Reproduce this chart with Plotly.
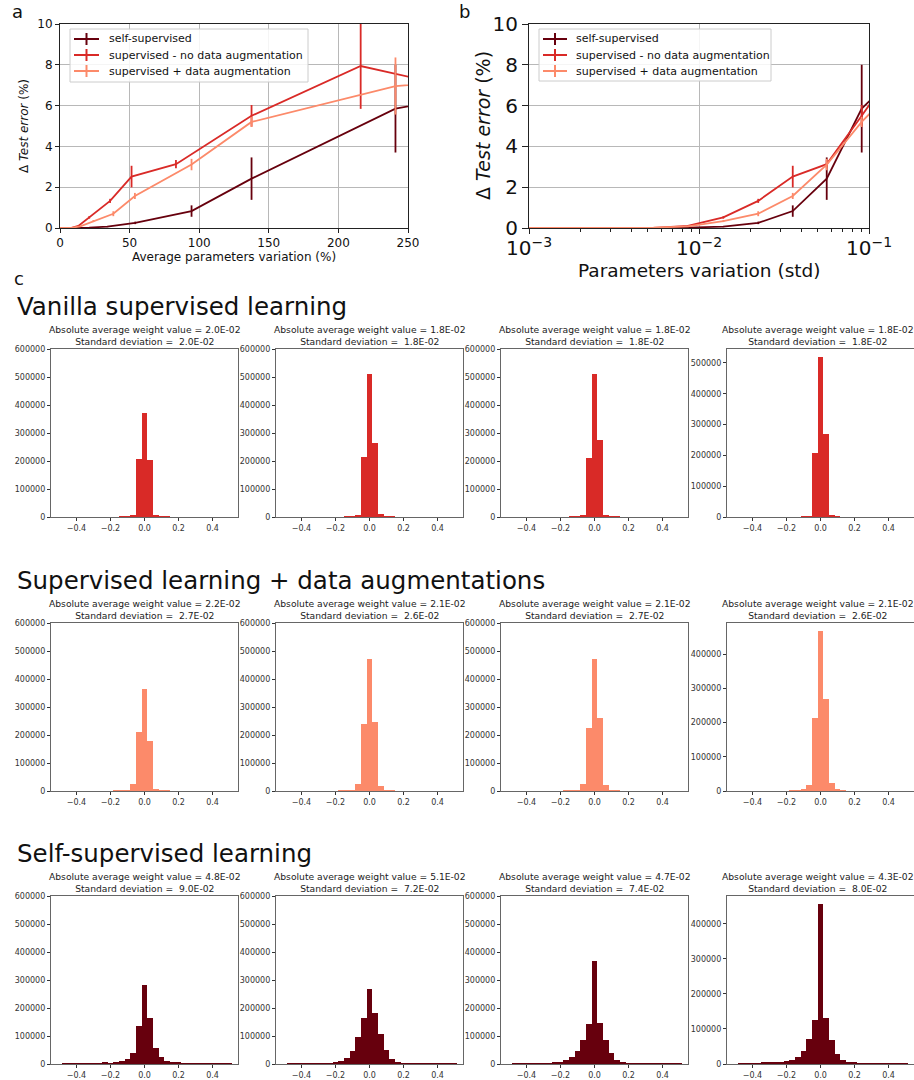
import plotly.graph_objects as go

FONT = "DejaVu Sans"
C_SELF = "#67000d"
C_SUP = "#d92a27"
C_AUG = "#fc8a6a"

# ---------------- Panel a / b data ----------------
series_names = ["self-supervised", "supervised - no data augmentation", "supervised + data augmentation"]

# parameters variation (std) for panel b
b_std = [0.0005, 0.0008, 0.0013, 0.0021, 0.0034, 0.0054, 0.0086, 0.0139, 0.0223, 0.0356, 0.0564, 0.0906, 0.145, 0.232]

# average parameters variation (%) for panel a
a_x_self = [0, 2, 3.3, 5.3, 8.5, 13.5, 21, 34, 54, 94.5, 137.6, 241, 370, 590]
a_x_sup = [0, 1.2, 2, 3.2, 5.2, 8.2, 13.2, 21, 36, 51.4, 83.3, 137.6, 216, 346]
a_x_aug = [0, 1.4, 2.2, 3.5, 5.6, 9, 14.5, 24, 38.3, 53.8, 94.5, 137.6, 241, 385]

y_self = [0, 0, 0, 0, 0, 0.005, 0.02, 0.07, 0.25, 0.83, 2.42, 5.85, 7.5, 9.0]
e_self = [0, 0, 0, 0, 0, 0.005, 0.01, 0.03, 0.06, 0.28, 1.04, 2.15, 2.5, 3.0]
y_sup = [0, 0, 0, 0, 0, 0.01, 0.1, 0.52, 1.33, 2.52, 3.13, 5.5, 7.94, 5.95]
e_sup = [0, 0, 0, 0, 0, 0.01, 0.03, 0.06, 0.1, 0.53, 0.2, 0.53, 2.1, 2.0]
y_aug = [0, 0, 0, 0, 0, 0.02, 0.08, 0.34, 0.7, 1.57, 3.11, 5.2, 6.96, 7.6]
e_aug = [0, 0, 0, 0, 0, 0.01, 0.03, 0.05, 0.12, 0.15, 0.28, 0.25, 1.4, 1.5]

b_major = [0.001, 0.01, 0.1]
b_major_text = ["10<sup>−3</sup>", "10<sup>−2</sup>", "10<sup>−1</sup>"]
b_minor = [m * 10 ** e for e in (-3, -2) for m in range(2, 10)]

# ---------------- Histogram data (panel c) ----------------
bin_start = -14  # bin index of the first count; bin width 1/30
bin_width = 1 / 30

def counts(d, fill=0):
    return [d.get(k, fill) for k in range(-14, 16)]

hist_vanilla = [
    counts({-4: 500, -3: 2000, -2: 6000, -1: 206000, 0: 371000, 1: 203000, 2: 5000, 3: 1500, 4: 500}),
    counts({-4: 500, -3: 1000, -2: 6000, -1: 215000, 0: 511000, 1: 264000, 2: 9500, 3: 2000, 4: 500}),
    counts({-4: 500, -3: 1000, -2: 6000, -1: 211000, 0: 511000, 1: 274000, 2: 6000, 3: 1500, 4: 500}),
    counts({-3: 800, -2: 2000, -1: 209000, 0: 519000, 1: 270000, 2: 5000, 3: 1000}),
]
hist_aug = [
    counts({-5: 1000, -4: 1500, -3: 3500, -2: 25000, -1: 211000, 0: 365000, 1: 179000, 2: 7000, 3: 1500, 4: 500}),
    counts({-5: 1000, -4: 1500, -3: 3500, -2: 25000, -1: 240000, 0: 472000, 1: 247000, 2: 18000, 3: 2500, 4: 800}),
    counts({-5: 1000, -4: 1500, -3: 3500, -2: 25000, -1: 225000, 0: 472000, 1: 261000, 2: 21000, 3: 3000, 4: 1000}),
    counts({-5: 1000, -4: 2000, -3: 4000, -2: 17500, -1: 215000, 0: 468000, 1: 269000, 2: 24000, 3: 3000, 4: 1000}),
]
hist_self = [
    counts({-8: 3000, -7: 4000, -6: 3500, -5: 7000, -4: 11000, -3: 19000, -2: 40000, -1: 137000, 0: 281000,
            1: 164000, 2: 58000, 3: 25000, 4: 11000, 5: 7000, 6: 4000, 7: 2500, 8: 1500}, fill=900),
    counts({-8: 1500, -7: 2500, -6: 6000, -5: 11000, -4: 22000, -3: 46000, -2: 97000, -1: 165000, 0: 268000,
            1: 182000, 2: 107000, 3: 50000, 4: 18000, 5: 7000, 6: 3500, 7: 1500}, fill=700),
    counts({-8: 3000, -7: 5000, -6: 8000, -5: 14000, -4: 25000, -3: 47000, -2: 87000, -1: 143000, 0: 368000,
            1: 146000, 2: 87000, 3: 40000, 4: 14000, 5: 8000, 6: 3500, 7: 1500}, fill=800),
    counts({-11: 1500, -10: 3000, -9: 4000, -8: 5000, -7: 6000, -6: 8000, -5: 11000, -4: 20000, -3: 37000,
            -2: 71000, -1: 125000, 0: 457000, 1: 132000, 2: 68000, 3: 29000, 4: 11000, 5: 6000, 6: 4000,
            7: 1500}, fill=800),
]

abs_avg = [["2.0E-02", "1.8E-02", "1.8E-02", "1.8E-02"],
           ["2.2E-02", "2.1E-02", "2.1E-02", "2.1E-02"],
           ["4.8E-02", "5.1E-02", "4.7E-02", "4.3E-02"]]
std_dev = [["2.0E-02", "1.8E-02", "1.8E-02", "1.8E-02"],
           ["2.7E-02", "2.6E-02", "2.7E-02", "2.6E-02"],
           ["9.0E-02", "7.2E-02", "7.4E-02", "8.0E-02"]]
row_titles = ["Vanilla supervised learning", "Supervised learning + data augmentations", "Self-supervised learning"]
row_colors = [C_SUP, C_AUG, C_SELF]
row_hists = [hist_vanilla, hist_aug, hist_self]

# ---------------- Layout geometry (pixels) ----------------
W, H = 914, 1080
def fx(p):
    return p / W
def fy(p):
    return 1 - p / H
def px_x(a, b):
    return [a / W, min(b / W, 1.0)]
def px_y(top, bottom):
    return [1 - bottom / H, 1 - top / H]

fig = go.Figure()
layout = dict(width=W, height=H, margin=dict(l=0, r=0, t=0, b=0, autoexpand=False),
              plot_bgcolor="white", paper_bgcolor="white",
              font=dict(family=FONT, color="#111"), bargap=0, showlegend=False)
annotations = []
shapes = []

# ---- Panels a and b ----
colors = [C_SELF, C_SUP, C_AUG]
ax_a = [a_x_self, a_x_sup, a_x_aug]
ys = [y_self, y_sup, y_aug]
es = [e_self, e_sup, e_aug]
for i in range(3):
    fig.add_trace(go.Scatter(x=ax_a[i], y=ys[i], mode="lines", line=dict(color=colors[i], width=1.8),
                             error_y=dict(type="data", array=es[i], width=0, thickness=1.8, color=colors[i]),
                             xaxis="x", yaxis="y", name=series_names[i], hoverinfo="skip"))
for i in range(3):
    fig.add_trace(go.Scatter(x=b_std, y=ys[i], mode="lines", line=dict(color=colors[i], width=1.8),
                             error_y=dict(type="data", array=es[i], width=0, thickness=1.8, color=colors[i]),
                             xaxis="x2", yaxis="y2", name=series_names[i], hoverinfo="skip"))

axis_common = dict(showline=True, mirror=True, linecolor="#222", linewidth=1, ticks="outside",
                   tickcolor="#222", zeroline=False, showgrid=True, gridcolor="#b8b8b8", gridwidth=0.8,
                   automargin=False)
layout["xaxis"] = dict(axis_common, domain=px_x(60, 408), range=[0, 250], tickvals=[0, 50, 100, 150, 200, 250],
                       ticklen=4, tickfont=dict(size=12), anchor="y",
                       title=dict(text="Average parameters variation (%)", font=dict(size=12), standoff=2))
layout["yaxis"] = dict(axis_common, domain=px_y(24, 228), range=[0, 10], tickvals=[0, 2, 4, 6, 8, 10],
                       ticklen=4, tickfont=dict(size=12), anchor="x",
                       title=dict(text="Δ <i>Test error</i> (%)", font=dict(size=12), standoff=6))
layout["xaxis2"] = dict(axis_common, domain=px_x(529, 869), type="log", range=[-3, -1],
                        tickmode="array", tickvals=b_major, ticktext=b_major_text, ticklen=5,
                        ticklabelstandoff=-3,
                        tickfont=dict(size=20), anchor="y2",
                        minor=dict(tickmode="array", tickvals=b_minor, ticks="outside", ticklen=3,
                                   tickcolor="#222", showgrid=False))
layout["yaxis2"] = dict(axis_common, domain=px_y(24, 228), range=[0, 10], tickvals=[0, 2, 4, 6, 8, 10],
                        ticklen=6, tickfont=dict(size=20), anchor="x2")
annotations.append(dict(xref="paper", yref="paper", x=fx(699), y=fy(270), xanchor="center", yanchor="middle",
                        showarrow=False, text="Parameters variation (std)", font=dict(size=18.5, color="#111")))
annotations.append(dict(xref="paper", yref="paper", x=fx(483), y=fy(126), xanchor="center", yanchor="middle",
                        showarrow=False, textangle=-90, text="Δ <i>Test error</i> (%)",
                        font=dict(size=19, color="#111")))

# custom legends (matplotlib style: line with vertical error bar)
for (bx0, bx1, by0, by1, lx0, lx1, tx) in [(70, 308, 29, 82, 74, 99, 107), (539, 771, 29, 81, 543, 567, 574)]:
    shapes.append(dict(type="rect", xref="paper", yref="paper", x0=fx(bx0), x1=fx(bx1), y0=fy(by1), y1=fy(by0),
                       line=dict(color="#cccccc", width=1), fillcolor="rgba(255,255,255,0.85)", layer="above"))
    for i, ey in enumerate([39, 55, 71]):
        shapes.append(dict(type="line", xref="paper", yref="paper", x0=fx(lx0), x1=fx(lx1), y0=fy(ey), y1=fy(ey),
                           line=dict(color=colors[i], width=2), layer="above"))
        xc = (lx0 + lx1) / 2
        shapes.append(dict(type="line", xref="paper", yref="paper", x0=fx(xc), x1=fx(xc), y0=fy(ey - 6),
                           y1=fy(ey + 6), line=dict(color=colors[i], width=2), layer="above"))
        annotations.append(dict(xref="paper", yref="paper", x=fx(tx), y=fy(ey), xanchor="left", yanchor="middle",
                                showarrow=False, text=series_names[i], font=dict(size=11, color="#111")))

# ---- Panel c histograms ----
col_left = [51, 276, 501, 727]
row_top = [349, 623, 896]
hist_w, hist_h = 187, 168
bin_centers = [(bin_start + j) * bin_width for j in range(30)]
n = 3
for r in range(3):
    for c in range(4):
        xa = f"x{n}"
        ya = f"y{n}"
        cnt = row_hists[r][c]
        fig.add_trace(go.Bar(x=bin_centers, y=cnt, width=bin_width, marker=dict(color=row_colors[r], line=dict(width=0)),
                             xaxis=xa, yaxis=ya, hoverinfo="skip"))
        yr = [0, 600000] if c < 3 else [0, 1.05 * max(cnt)]
        hax = dict(showline=True, mirror=True, linecolor="#666", linewidth=1.2, ticks="outside", ticklen=3,
                   tickcolor="#333", showgrid=False, zeroline=False, tickfont=dict(size=8, color="#333"),
                   automargin=False)
        layout[f"xaxis{n}"] = dict(hax, domain=px_x(col_left[c], col_left[c] + hist_w), range=[-0.55, 0.55],
                                    tickvals=[-0.4, -0.2, 0.0, 0.2, 0.4], tickformat=".1f", anchor=ya)
        layout[f"yaxis{n}"] = dict(hax, domain=px_y(row_top[r], row_top[r] + hist_h), range=yr,
                                    dtick=100000, tickformat="d", anchor=xa)
        annotations.append(dict(xref=f"{xa} domain", yref=f"{ya} domain", x=0.5, y=1, yshift=0,
                                xshift=-3 if c == 3 else 0,
                                xanchor="center", yanchor="bottom", showarrow=False,
                                text=f"Absolute average weight value = {abs_avg[r][c]}<br>Standard deviation =  {std_dev[r][c]}",
                                font=dict(size=9.2, color="#222")))
        n += 1
    annotations.append(dict(xref="paper", yref="paper", x=fx(15), y=fy(row_top[r] - 43),
                            xanchor="left", yanchor="middle", showarrow=False, text=row_titles[r],
                            font=dict(size=24.5, color="#111")))

for lab, x, y in [("a", 10, 12), ("b", 457, 12), ("c", 12, 278)]:
    annotations.append(dict(xref="paper", yref="paper", x=fx(x), y=fy(y), xanchor="left", yanchor="middle",
                            showarrow=False, text=lab, font=dict(size=18, color="#111")))

layout["annotations"] = annotations
layout["shapes"] = shapes
fig.update_layout(**layout)
fig.write_html("out.html", config={"displayModeBar": False},
               post_script="document.body.style.margin='0';document.body.style.padding='0';"
                           "document.documentElement.style.overflow='hidden';")
